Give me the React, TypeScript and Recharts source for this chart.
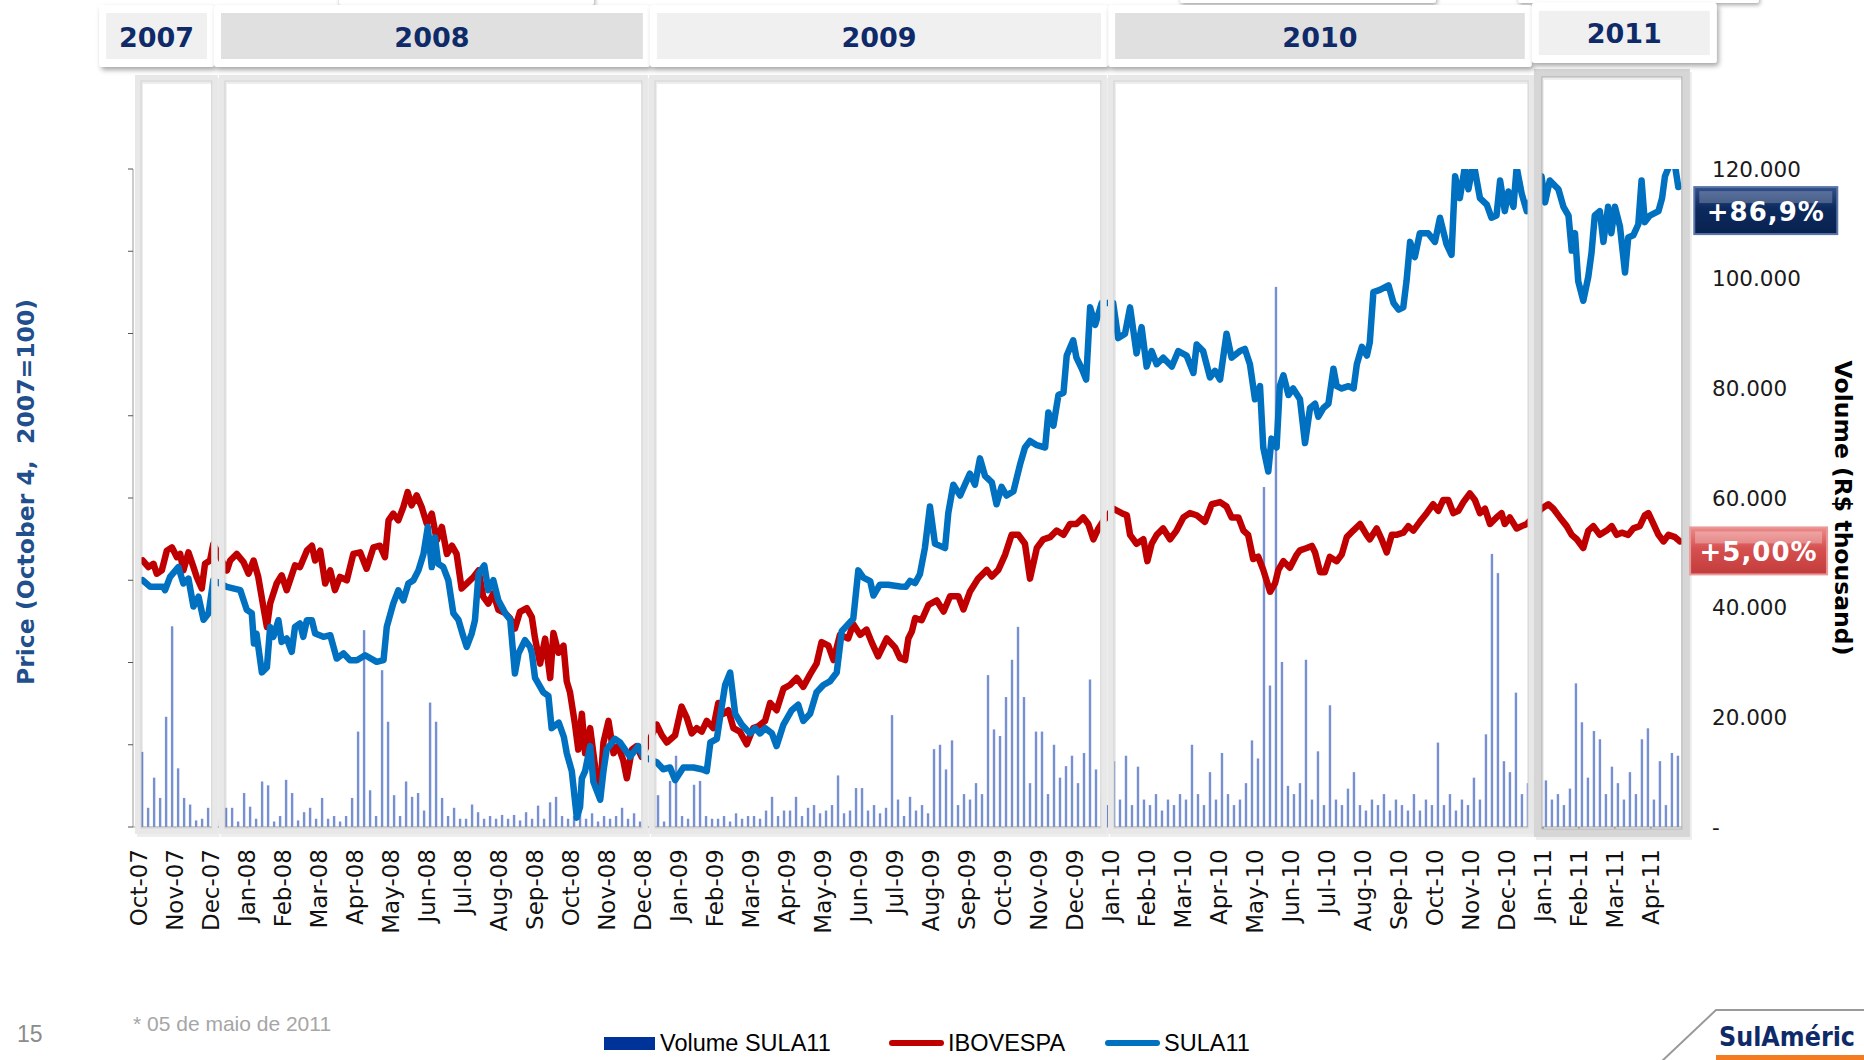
import React from 'react';
import { ComposedChart, Line, Bar, XAxis, YAxis, ReferenceArea, ReferenceDot } from 'recharts';

// ---------- DATA ----------
const monthLabels = [
  'Oct-07', 'Nov-07', 'Dec-07',
  'Jan-08', 'Feb-08', 'Mar-08', 'Apr-08', 'May-08', 'Jun-08', 'Jul-08', 'Aug-08', 'Sep-08', 'Oct-08', 'Nov-08', 'Dec-08',
  'Jan-09', 'Feb-09', 'Mar-09', 'Apr-09', 'May-09', 'Jun-09', 'Jul-09', 'Aug-09', 'Sep-09', 'Oct-09', 'Nov-09', 'Dec-09',
  'Jan-10', 'Feb-10', 'Mar-10', 'Apr-10', 'May-10', 'Jun-10', 'Jul-10', 'Aug-10', 'Sep-10', 'Oct-10', 'Nov-10', 'Dec-10',
  'Jan-11', 'Feb-11', 'Mar-11', 'Apr-11',
];

// [month position (0 = Oct-07), price index]
const sula11: [number, number][] = [
  [0.10, 150], [0.31, 146], [0.67, 146], [0.72, 144], [0.86, 152], [1.09, 158], [1.23, 148], [1.37, 151], [1.51, 134], [1.65, 140],
  [1.79, 126], [1.93, 130], [2.06, 150], [2.44, 146], [2.81, 144], [2.99, 132], [3.13, 130], [3.19, 111.5], [3.26, 117.6], [3.41, 94],
  [3.55, 97], [3.64, 121.6], [3.73, 115.6], [3.87, 125.7], [3.96, 112.5], [4.10, 114.6], [4.24, 106.5], [4.33, 121.6], [4.47, 123.7], [4.56, 115.6],
  [4.66, 125.7], [4.80, 125.7], [4.89, 117.6], [5.12, 115.6], [5.31, 116.6], [5.49, 102.4], [5.68, 105.5], [5.86, 101.4], [6.05, 101.4], [6.28, 104.4],
  [6.60, 100.4], [6.79, 101.4], [6.88, 121.6], [7.06, 135.8], [7.20, 143.9], [7.34, 137.8], [7.48, 148], [7.62, 150], [7.76, 156], [7.90, 166],
  [8.02, 182.4], [8.13, 158], [8.22, 176], [8.31, 160], [8.45, 158], [8.59, 150], [8.73, 130], [8.87, 126], [9.01, 115.6], [9.10, 109.5],
  [9.24, 117.6], [9.33, 125.7], [9.43, 154], [9.59, 159], [9.70, 144], [9.84, 150], [9.98, 137.8], [10.17, 130], [10.31, 126], [10.44, 93.3],
  [10.54, 105.5], [10.72, 113.6], [10.86, 109.5], [10.91, 105.9], [11.00, 90.6], [11.23, 81.9], [11.37, 79.7], [11.46, 60.1], [11.66, 63.4], [11.80, 54.7],
  [11.88, 44.9], [12.02, 34], [12.16, 5.7], [12.25, 12.2], [12.30, 29.6], [12.39, 34], [12.53, 49.2], [12.62, 27.5], [12.81, 16.6], [12.90, 34],
  [12.99, 47.1], [13.22, 53.6], [13.36, 51.4], [13.64, 42.7], [13.87, 49.2], [14.01, 42.7], [14.38, 39.4], [14.56, 35.1], [14.75, 36.2], [14.89, 28.5],
  [15.12, 36.2], [15.40, 36.2], [15.63, 35.1], [15.77, 34], [15.87, 51.4], [16.05, 53.6], [16.14, 66.7], [16.28, 86.3], [16.42, 93.9], [16.56, 68.8],
  [16.74, 62.3], [16.97, 56.9], [17.11, 60.1], [17.25, 56.9], [17.39, 60.1], [17.58, 56.9], [17.71, 49.2], [17.90, 62.3], [18.13, 71], [18.31, 74.3],
  [18.45, 64.5], [18.64, 68.8], [18.82, 81.9], [19.01, 86.3], [19.19, 88.5], [19.38, 93.9], [19.52, 119], [19.70, 123.3], [19.84, 126.6], [19.98, 156],
  [20.12, 151.6], [20.31, 149.5], [20.40, 140.7], [20.58, 147.3], [20.81, 147.3], [21.14, 146.2], [21.30, 146], [21.42, 149.6], [21.56, 148.3], [21.69, 153.6],
  [21.83, 169.6], [21.97, 194.8], [22.11, 172.2], [22.25, 170.9], [22.39, 169.6], [22.48, 190.9], [22.62, 208.1], [22.81, 201.5], [22.94, 208.1], [23.08, 214.8],
  [23.22, 208.1], [23.36, 224.1], [23.50, 213.5], [23.69, 209.5], [23.82, 196.2], [23.96, 206.8], [24.10, 201.5], [24.29, 204.1], [24.47, 220.1], [24.61, 230.7],
  [24.75, 234.7], [24.94, 232.1], [25.17, 230.7], [25.26, 252], [25.40, 244], [25.54, 262.6], [25.68, 264], [25.77, 286.6], [25.95, 295.9], [26.04, 285.3],
  [26.19, 278.6], [26.31, 272], [26.42, 315.9], [26.56, 305.2], [26.74, 318.5], [27.06, 318.5], [27.20, 297.2], [27.39, 299.9], [27.53, 315.9], [27.71, 287.9],
  [27.85, 303.9], [27.99, 279.9], [28.13, 289.3], [28.27, 281.3], [28.45, 285.3], [28.69, 279.9], [28.87, 289.3], [29.10, 286.6], [29.29, 276], [29.38, 293.3],
  [29.56, 289.3], [29.75, 273.3], [29.89, 277.3], [30.03, 272], [30.21, 299.9], [30.35, 285.3], [30.58, 289.3], [30.72, 290.6], [30.86, 281.3], [31.00, 260],
  [31.14, 268], [31.23, 230.7], [31.37, 216.1], [31.46, 236.1], [31.60, 230.7], [31.69, 268], [31.79, 274.6], [31.93, 262.6], [32.06, 266.6], [32.25, 260],
  [32.39, 233.4], [32.53, 254.7], [32.67, 257.3], [32.76, 249.4], [32.90, 254.7], [33.04, 257.3], [33.18, 278.6], [33.27, 268], [33.41, 266.6], [33.60, 268],
  [33.74, 266.6], [33.83, 281.3], [33.97, 291.9], [34.11, 286.6], [34.19, 294.6], [34.29, 325.2], [34.47, 326.5], [34.71, 329.2], [34.85, 318.5], [34.99, 314.5],
  [35.12, 315.9], [35.21, 331.8], [35.31, 355.7], [35.44, 346.4], [35.58, 361], [35.81, 361], [36.00, 355.7], [36.14, 370.4], [36.32, 354.4], [36.46, 347.8],
  [36.56, 395.6], [36.69, 382.3], [36.83, 401], [36.93, 387.7], [37.07, 404], [37.25, 382.3], [37.44, 378.3], [37.57, 370.4], [37.71, 371.7], [37.81, 393],
  [37.94, 374.4], [38.04, 386.3], [38.18, 377], [38.27, 401], [38.41, 385], [38.55, 374.4], [38.64, 379.7], [38.96, 395.6], [39.06, 379.7], [39.19, 393],
  [39.43, 387.7], [39.57, 377], [39.71, 371.7], [39.80, 350.4], [39.89, 361], [39.98, 331.8], [40.12, 319.9], [40.26, 334.5], [40.35, 349.1], [40.44, 371.7],
  [40.58, 374.4], [40.68, 355.7], [40.81, 377], [40.90, 361], [41.00, 377], [41.14, 365], [41.28, 337.1], [41.37, 358.4], [41.51, 359.7], [41.65, 366.4],
  [41.74, 393], [41.83, 367.7], [41.97, 371.7], [42.21, 374.4], [42.31, 382.3], [42.39, 395.6], [42.53, 403], [42.67, 402], [42.76, 389],
];

const ibovespa: [number, number][] = [
  [0.10, 162], [0.26, 158], [0.40, 160], [0.49, 154], [0.63, 156], [0.77, 168], [0.91, 170], [1.05, 164], [1.14, 166], [1.23, 156],
  [1.37, 167], [1.51, 158], [1.60, 152], [1.74, 145], [1.83, 160], [1.97, 162], [2.06, 172], [2.44, 156], [2.53, 162], [2.71, 166],
  [2.90, 161], [3.04, 154], [3.18, 162], [3.31, 152], [3.45, 134], [3.55, 121.6], [3.64, 135.8], [3.82, 148], [3.96, 153], [4.10, 144],
  [4.33, 159], [4.47, 158], [4.66, 168], [4.80, 171], [4.89, 162], [5.03, 168], [5.17, 148], [5.31, 156], [5.44, 144], [5.58, 152],
  [5.77, 150], [5.95, 166], [6.14, 167], [6.32, 157], [6.51, 170], [6.69, 171], [6.83, 164], [6.93, 186.4], [7.06, 190.5], [7.20, 186.4],
  [7.34, 194.5], [7.46, 203.6], [7.57, 195.5], [7.71, 201.6], [7.85, 194.5], [7.99, 184.4], [8.13, 190.5], [8.27, 174.3], [8.41, 182.4], [8.55, 166],
  [8.69, 171], [8.82, 166], [8.96, 145], [9.15, 149], [9.29, 152], [9.43, 156], [9.56, 140], [9.70, 135.8], [9.84, 142], [9.98, 132],
  [10.17, 130], [10.31, 126.7], [10.44, 120.6], [10.58, 130.8], [10.77, 133.1], [10.91, 127.6], [11.00, 114.5], [11.14, 99.3], [11.28, 114.5], [11.42, 90.6],
  [11.51, 117.9], [11.65, 105.9], [11.79, 110.2], [11.88, 88.5], [11.97, 81.9], [12.11, 62.3], [12.20, 47.1], [12.30, 68.8], [12.39, 44.9], [12.53, 60.1],
  [12.67, 36.2], [12.81, 23.1], [12.90, 51.4], [13.04, 64.5], [13.18, 44.9], [13.31, 49.2], [13.45, 40.5], [13.55, 29.6], [13.69, 47.1], [13.82, 49.2],
  [13.96, 42.7], [14.38, 62.3], [14.52, 55.8], [14.66, 51.4], [14.89, 55.8], [15.07, 73.2], [15.21, 66.7], [15.35, 56.9], [15.49, 60.1], [15.63, 58],
  [15.77, 64.5], [15.95, 60.1], [16.09, 75.4], [16.23, 68.8], [16.37, 71], [16.51, 60.1], [16.69, 58], [16.88, 50.3], [17.06, 60.1], [17.20, 61.2],
  [17.39, 64.5], [17.53, 75.4], [17.71, 71], [17.90, 84.1], [18.08, 86.3], [18.27, 90.6], [18.45, 85.2], [18.64, 92.8], [18.82, 99.3], [18.96, 112.4],
  [19.15, 110.2], [19.29, 101.5], [19.47, 116.8], [19.70, 114.6], [19.84, 123.3], [20.03, 116.8], [20.21, 120], [20.35, 112.4], [20.53, 103.7], [20.77, 114.6],
  [21.00, 109.2], [21.14, 102.6], [21.28, 101.5], [21.37, 114.6], [21.47, 119], [21.56, 127], [21.74, 125.7], [21.93, 135], [22.16, 137.7], [22.35, 131],
  [22.53, 140.3], [22.76, 140.3], [22.90, 132.3], [23.08, 143], [23.31, 151], [23.55, 156.3], [23.69, 152.3], [23.87, 156.3], [24.06, 165.6], [24.24, 177.6],
  [24.43, 177.6], [24.61, 172.2], [24.75, 151], [24.94, 169.6], [25.12, 174.9], [25.31, 176.2], [25.49, 180.2], [25.68, 177.6], [25.86, 184.2], [26.04, 184.2],
  [26.23, 188.2], [26.37, 184.2], [26.51, 174.9], [26.65, 181.5], [26.77, 185.5], [27.06, 193.5], [27.30, 190.8], [27.44, 189.5], [27.53, 177.6], [27.71, 172.2],
  [27.90, 174.9], [28.01, 161.6], [28.13, 172.2], [28.27, 177.6], [28.45, 181.5], [28.64, 174.9], [28.82, 180.2], [29.01, 188.2], [29.19, 190.8], [29.38, 189.5],
  [29.61, 185.5], [29.80, 196.2], [30.03, 197.5], [30.21, 194.8], [30.35, 188.2], [30.54, 188.2], [30.68, 180.2], [30.81, 177.6], [30.95, 162.9], [31.09, 164.3],
  [31.23, 156.3], [31.42, 143], [31.56, 148.3], [31.65, 156.3], [31.79, 161.6], [31.97, 157.6], [32.16, 165.6], [32.25, 168.2], [32.44, 169.6], [32.58, 170.9],
  [32.67, 166.9], [32.81, 154.9], [32.94, 154.9], [33.08, 164.2], [33.27, 161.6], [33.41, 165.6], [33.55, 176.2], [33.73, 180.2], [33.92, 184.2], [34.10, 177.6],
  [34.19, 174.9], [34.38, 181.5], [34.52, 174.9], [34.66, 166.9], [34.80, 177.6], [34.93, 177.6], [35.12, 178.9], [35.26, 182.9], [35.40, 180.2], [35.58, 185.5],
  [35.77, 190.8], [35.95, 196.2], [36.09, 192.2], [36.23, 198.8], [36.37, 198.8], [36.51, 190.8], [36.65, 192.2], [36.79, 197.5], [36.97, 202.8], [37.11, 198.8],
  [37.25, 190.8], [37.39, 193.5], [37.53, 184.2], [37.71, 188.2], [37.85, 190.8], [37.94, 184.2], [38.08, 188.2], [38.27, 181.5], [38.41, 182.9], [38.55, 184.2],
  [38.96, 193.5], [39.15, 196.2], [39.29, 193.5], [39.47, 188.2], [39.66, 182.9], [39.80, 177.6], [39.94, 174.9], [40.12, 169.6], [40.26, 180.2], [40.40, 182.9],
  [40.58, 177.6], [40.77, 180.2], [40.91, 182.9], [41.05, 177.6], [41.19, 178.9], [41.37, 177.6], [41.51, 181.5], [41.69, 182.9], [41.83, 189.5], [41.93, 190.8],
  [42.07, 184.2], [42.21, 177.6], [42.35, 173.6], [42.49, 177.6], [42.67, 176.2], [42.81, 173.6],
];

// Volume SULA11 (R$ thousand), six sampled sessions per month, Oct-07 .. Apr-11
const volumeSula11: number[][] = [
  [13700, 3500, 9000, 5300, 20100, 36600],
  [10700, 5300, 4100, 1200, 1500, 3500],
  [13700, 1500, 3500, 3500, 1000, 6200],
  [3700, 1500, 8300, 7600, 1000, 2000],
  [8600, 6200, 1200, 2700, 3500, 1500],
  [5300, 1500, 2000, 1000, 2000, 5300],
  [17400, 35900, 6700, 2000, 28600, 19200],
  [5800, 2000, 8300, 5500, 6200, 3000],
  [22700, 19200, 5300, 2000, 3500, 1500],
  [1500, 4100, 2700, 1500, 2000, 1500],
  [2200, 1500, 2200, 1200, 2700, 1500],
  [3900, 1500, 4500, 5500, 2000, 1500],
  [2000, 3000, 1500, 2500, 1000, 2000],
  [1500, 2000, 3500, 1500, 2500, 1000],
  [1000, 2000, 5800, 1000, 8400, 13000],
  [2000, 1500, 7700, 8400, 2000, 1500],
  [1500, 2000, 1000, 2500, 1500, 2000],
  [2000, 1500, 3000, 5500, 2000, 3000],
  [3000, 5500, 2000, 3500, 4000, 2500],
  [3000, 4000, 9400, 2500, 3000, 7100],
  [7100, 3000, 4000, 2500, 3500, 20400],
  [5000, 2000, 5500, 3000, 4000, 2500],
  [14200, 15000, 10500, 15800, 4000, 6000],
  [5000, 8000, 6000, 27700, 17800, 16600],
  [23700, 30500, 36500, 23700, 8000, 17400],
  [17400, 6000, 15000, 9000, 11100, 13000],
  [8000, 13500, 26900, 10500, 6000, 4000],
  [12000, 5000, 13000, 4000, 11000, 5000],
  [4000, 6000, 3000, 5000, 4000, 6000],
  [5000, 15000, 6000, 4000, 10000, 5000],
  [13500, 6000, 4000, 5000, 8000, 15800],
  [12500, 62000, 25800, 98500, 30100, 7500],
  [6000, 8000, 30500, 5000, 13800, 4000],
  [22200, 5000, 4000, 7000, 10000, 4000],
  [3000, 5000, 4000, 6000, 3000, 5000],
  [4000, 3000, 6000, 3000, 5000, 4000],
  [15400, 4000, 6000, 3000, 5000, 4000],
  [9000, 5000, 16900, 49800, 46300, 12000],
  [10000, 24500, 6000, 8000, 4000, 3000],
  [8500, 5000, 6000, 4000, 7000, 26200],
  [19100, 9000, 17500, 16000, 6000, 11000],
  [8000, 5000, 10000, 6000, 16000, 18000],
  [5000, 12000, 4000, 13500, 13000],
];

const priceTicks = [0, 50, 100, 150, 200, 250, 300, 350, 400];
const volumeTicks = [0, 20000, 40000, 60000, 80000, 100000, 120000];

const yearLabels = ['2007', '2008', '2009', '2010', '2011'];
const yearPanelFill = ['#f0f0f0', '#e0e0e0', '#f0f0f0', '#e0e0e0', '#f0f0f0'];
const yearFrameStart = [-0.03, 2.3, 14.25, 27.0, 38.86];
const yearFrameEnd = [2.1, 14.05, 26.8, 38.67, 42.97];
const yearHeaderStart = [-1.11, 2.08, 14.19, 26.92, 38.69];
const yearHeaderEnd = [2.08, 14.19, 26.92, 38.69, 43.83];

const sulaBadge = '+86,9%';
const ibovBadge = '+5,00%';

// ---------- BUILD TABLE ----------
type Row = { m: number; sula?: number; ibov?: number; vol?: number };
const rowMap = new Map<number, Row>();
const put = (m: number, key: 'sula' | 'ibov' | 'vol', v: number) => {
  const k = Math.round(m * 10000) / 10000;
  let r = rowMap.get(k);
  if (!r) { r = { m: k }; rowMap.set(k, r); }
  r[key] = v;
};
sula11.forEach(([m, v]) => put(m, 'sula', v));
ibovespa.forEach(([m, v]) => put(m, 'ibov', v));
volumeSula11.forEach((arr, mi) => arr.forEach((v, j) => put(mi + (j + 0.5) / 6, 'vol', v)));
const data = Array.from(rowMap.values()).sort((a, b) => a.m - b.m);
const monthTicks = monthLabels.map((_, i) => i);
const lastSula = sula11[sula11.length - 1];
const lastIbov = ibovespa[ibovespa.length - 1];

// ---------- STYLE ----------
const FONT = '"DejaVu Sans", Verdana, sans-serif';
const NAVY = '#0f2a68';

const MonthTick = (props: any) => {
  const { x, y, payload } = props;
  return (
    <text x={x} y={y} transform={`rotate(-90 ${x} ${y})`} textAnchor="end" dy="0.36em"
      fontFamily={FONT} fontSize={23} fill="#111">
      {monthLabels[payload.value]}
    </text>
  );
};

const volTickFmt = (v: number) => (v === 0 ? '-' : `${Math.round(v / 1000)}.000`);

const VolBar = (props: any) => {
  const { x, y, width, height } = props;
  if (!height || height <= 0 || x == null) return <g />;
  const cx = x + (width || 0) / 2;
  return <rect x={cx - 1.2} y={y} width={2.4} height={height} fill="#5574c6" fillOpacity={0.8} />;
};

const LeftTitle = (props: any) => {
  const vb = props.viewBox || { x: 0, y: 0, width: 0, height: 0 };
  const cx = vb.x + 26;
  const cy = vb.y + vb.height / 2 - 6;
  return (
    <text x={cx} y={cy} transform={`rotate(-90 ${cx} ${cy})`} textAnchor="middle" dominantBaseline="central"
      fontFamily={FONT} fontWeight="bold" fontSize={23.5} fill="#1f4f8c" style={{ whiteSpace: 'pre' }}>
      {'Price (October 4,  2007=100)'}
    </text>
  );
};

const RightTitle = (props: any) => {
  const vb = props.viewBox || { x: 0, y: 0, width: 0, height: 0 };
  const cx = vb.x + 155;
  const cy = vb.y + vb.height / 2 + 10;
  return (
    <text x={cx} y={cy} transform={`rotate(90 ${cx} ${cy})`} textAnchor="middle" dominantBaseline="central"
      fontFamily={FONT} fontWeight="bold" fontSize={23.5} fill="#000">
      Volume (R$ thousand)
    </text>
  );
};

const Badge = (props: any) => {
  const { viewBox, text, kind, dx, dy, w } = props;
  if (!viewBox) return null;
  const x = viewBox.x + dx;
  const y = viewBox.y + dy;
  const h = 47;
  const blue = kind === 'blue';
  return (
    <g>
      <rect x={x} y={y} width={w} height={h} fill={blue ? 'url(#badgeBlue)' : 'url(#badgeRed)'}
        stroke={blue ? '#5a74a8' : '#e89a9a'} strokeWidth={2} />
      <rect x={x + 5} y={y + 4} width={w - 10} height={12} fill="#fff" fillOpacity={blue ? 0.22 : 0.28} />
      <text x={x + w / 2} y={y + h / 2 + 1} textAnchor="middle" dominantBaseline="central" fontFamily={FONT}
        fontWeight="bold" fontSize={26} letterSpacing={1} fill="#fff">{text}</text>
    </g>
  );
};

const frameShape = (dark: boolean) => (props: any) => {
  const { x, y, width, height } = props;
  const sw = dark ? 8 : 6;
  return (
    <g>
      <rect x={x + 2} y={y + 3} width={width} height={height} fill="none" stroke="#000" strokeOpacity={0.07} strokeWidth={sw} />
      <rect x={x} y={y} width={width} height={height} fill="none" stroke={dark ? '#d6d6d6' : '#e8e8e8'} strokeWidth={sw} />
      <rect x={x + sw / 2} y={y + sw / 2} width={width - sw} height={height - sw} fill="none"
        stroke={dark ? '#b0b0b0' : '#d2d2d2'} strokeWidth={1} />
    </g>
  );
};

const headerShape = (label: string, fill: string) => (props: any) => {
  const { x, y, width, height } = props;
  return (
    <g>
      <rect x={x} y={y} width={width} height={height} fill="#fff" rx={3} filter="url(#hdrShadow)" />
      <rect x={x + 7} y={y + 8} width={width - 14} height={height - 16} fill={fill} />
      <text x={x + width / 2} y={y + height / 2 + 1} textAnchor="middle" dominantBaseline="central"
        fontFamily={FONT} fontWeight="bold" fontSize={27} fill={NAVY}>{label}</text>
    </g>
  );
};

const legendItems = [
  { name: 'Volume SULA11', kind: 'rect', color: '#003399', width: 285 },
  { name: 'IBOVESPA', kind: 'line', color: '#c00000', width: 216 },
  { name: 'SULA11', kind: 'line', color: '#0070c0', width: 160 },
];

export default function App() {
  return (
    <div style={{ position: 'absolute', left: 0, top: 0, width: 1864, height: 1060, background: '#fff', overflow: 'hidden' }}>
      {/* cut-off boxes at the top edge */}
      {[[339, 255, 5], [1180, 256, 3], [1518, 241, 3]].map(([l, w, b], i) => (
        <div key={i} style={{ position: 'absolute', left: l, top: b - 20, width: w, height: 20, background: '#fff',
          boxShadow: '1px 2px 4px rgba(0,0,0,0.35)', borderRadius: 2 }} />
      ))}

      <div style={{ position: 'absolute', left: 0, top: 0 }}>
        <ComposedChart width={1864} height={1060} data={data} margin={{ top: 169, right: 0, bottom: 113, left: 0 }}>
          <defs>
            <linearGradient id="badgeBlue" x1="0" y1="0" x2="0" y2="1">
              <stop offset="0" stopColor="#33508a" />
              <stop offset="0.45" stopColor="#0d2a5e" />
              <stop offset="1" stopColor="#08214f" />
            </linearGradient>
            <linearGradient id="badgeRed" x1="0" y1="0" x2="0" y2="1">
              <stop offset="0" stopColor="#ee8a8a" />
              <stop offset="0.45" stopColor="#d65050" />
              <stop offset="1" stopColor="#c23c3c" />
            </linearGradient>
            <filter id="hdrShadow" x="-10%" y="-30%" width="120%" height="170%">
              <feDropShadow dx="2" dy="3" stdDeviation="2.5" floodColor="#000" floodOpacity="0.35" />
            </filter>
          </defs>

          <XAxis dataKey="m" type="number" domain={[-0.17, 43.03]} allowDataOverflow ticks={monthTicks} interval={0}
            tick={<MonthTick />} tickSize={5} tickMargin={17} height={120}
            axisLine={{ stroke: '#9a9a9a' }} tickLine={{ stroke: '#7a7a7a' }} />
          <YAxis yAxisId="left" orientation="left" width={133} domain={[0, 400]} allowDataOverflow ticks={priceTicks}
            tickFormatter={() => ''} tickSize={5} axisLine={{ stroke: '#9a9a9a' }} tickLine={{ stroke: '#555' }}
            label={<LeftTitle />} />
          <YAxis yAxisId="right" orientation="right" width={176} domain={[0, 120000]} allowDataOverflow ticks={volumeTicks}
            tickFormatter={volTickFmt} axisLine={false} tickLine={false} tickSize={6} tickMargin={18}
            tick={{ fontFamily: FONT, fontSize: 21.5, fill: '#1a1a1a' }} label={<RightTitle />} />

          <Bar yAxisId="right" dataKey="vol" fill="#5574c6" isAnimationActive={false} shape={VolBar} />
          <Line yAxisId="left" type="linear" dataKey="ibov" stroke="#c00000" strokeWidth={6.5} dot={false} activeDot={false}
            connectNulls isAnimationActive={false} strokeLinejoin="round" strokeLinecap="round" />
          <Line yAxisId="left" type="linear" dataKey="sula" stroke="#0070c0" strokeWidth={6.5} dot={false} activeDot={false}
            connectNulls isAnimationActive={false} strokeLinejoin="round" strokeLinecap="round" />

          {yearLabels.map((yl, i) => (
            <ReferenceArea key={`frame-${yl}`} yAxisId="left" x1={yearFrameStart[i]} x2={yearFrameEnd[i]}
              y1={i === 4 ? -3.6 : -2.4} y2={i === 4 ? 458.4 : 455.3} ifOverflow="visible" zIndex={1000}
              shape={frameShape(i === 4)} />
          ))}
          {yearLabels.map((yl, i) => (
            <ReferenceArea key={`hdr-${yl}`} yAxisId="left" x1={yearHeaderStart[i]} x2={yearHeaderEnd[i]}
              y1={i === 4 ? 464.4 : 462} y2={i === 4 ? 501 : 499.7} ifOverflow="visible" zIndex={1001}
              shape={headerShape(yl, yearPanelFill[i])} />
          ))}

          <ReferenceDot yAxisId="left" x={lastSula[0]} y={lastSula[1]} r={0} ifOverflow="visible" zIndex={1002}
            label={<Badge text={sulaBadge} kind="blue" dx={16} dy={0} w={143} />} />
          <ReferenceDot yAxisId="left" x={lastIbov[0]} y={lastIbov[1]} r={0} ifOverflow="visible" zIndex={1002}
            label={<Badge text={ibovBadge} kind="red" dx={10} dy={-14} w={137} />} />
        </ComposedChart>
      </div>

      {/* legend */}
      <div style={{ position: 'absolute', left: 604, top: 1027, height: 32, display: 'flex', alignItems: 'center',
        fontFamily: '"Liberation Sans", Arial, sans-serif', fontSize: 23.5, color: '#000', whiteSpace: 'nowrap' }}>
        {legendItems.map((it) => (
          <div key={it.name} style={{ display: 'flex', alignItems: 'center', width: it.width }}>
            {it.kind === 'rect'
              ? <div style={{ width: 51, height: 13, background: it.color, marginRight: 5 }} />
              : <div style={{ width: 55, height: 6, background: it.color, borderRadius: 3, marginRight: 4 }} />}
            <span>{it.name}</span>
          </div>
        ))}
      </div>

      {/* footer */}
      <div style={{ position: 'absolute', left: 17, top: 1021, fontFamily: '"Liberation Sans Narrow", "Liberation Sans", sans-serif',
        fontSize: 23, color: '#8c8c8c' }}>15</div>
      <div style={{ position: 'absolute', left: 133, top: 1012, fontFamily: '"Liberation Sans Narrow", "Liberation Sans", sans-serif',
        fontSize: 21, color: '#a6a6a6' }}>* 05 de maio de 2011</div>

      {/* logo */}
      <svg style={{ position: 'absolute', left: 0, top: 0 }} width={1864} height={1060}>
        <polyline points="1661,1062 1716,1010 1866,1010" fill="none" stroke="#9a9a9a" strokeWidth={2} />
        <rect x={1716} y={1055} width={150} height={6} fill="#f47b20" />
        <text x={1719} y={1046} fontFamily='"Liberation Sans Narrow", "DejaVu Sans Condensed", sans-serif' fontWeight="bold"
          fontSize={27} fill={NAVY} textLength={136} lengthAdjust="spacingAndGlyphs">SulAméric</text>
      </svg>
    </div>
  );
}
